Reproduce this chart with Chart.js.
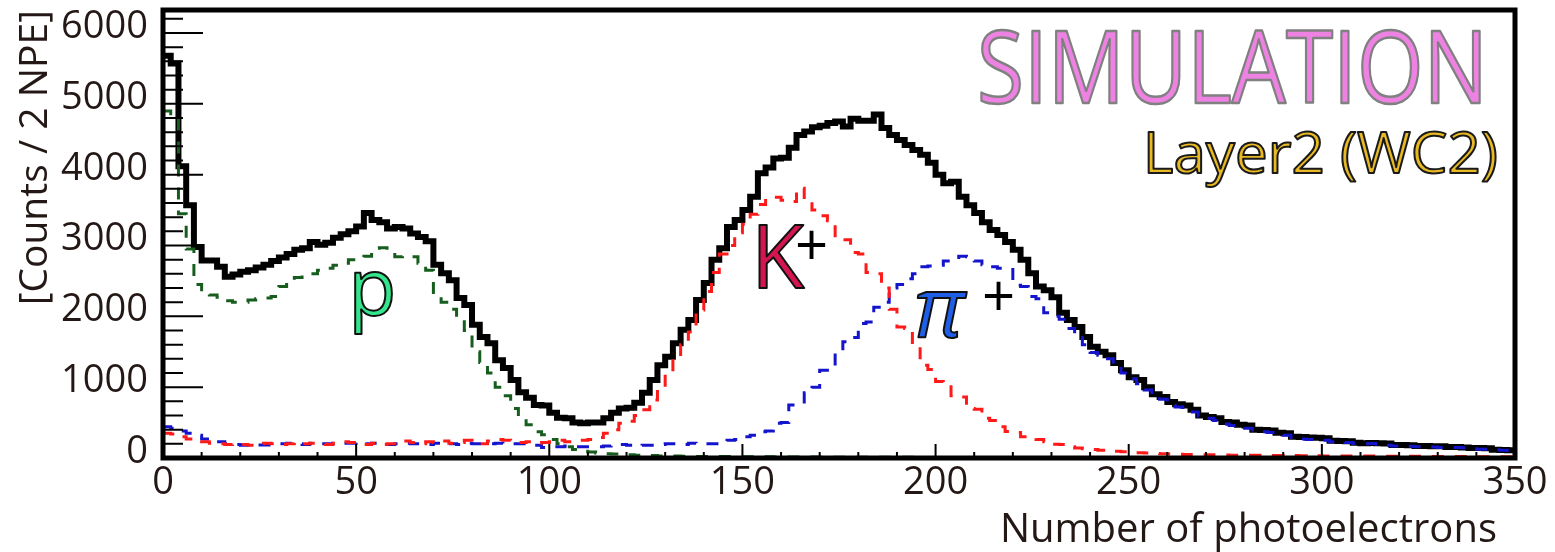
<!DOCTYPE html>
<html>
<head>
<meta charset="utf-8">
<script src="https://cdn.jsdelivr.net/npm/chart.js@4.4.1/dist/chart.umd.min.js"></script>
<style>
  html, body { margin: 0; padding: 0; background: #fff; }
  #wrap { width: 1555px; height: 552px; position: relative; }
</style>
</head>
<body>
<div id="wrap"><canvas id="chart"></canvas></div>
<script>
// histogram, 2 NPE per bin, 0..350
const BIN_WIDTH = 2;
const X_MIN = 0;
const X_MAX = 350;
const Y_MAX = 6325;
const X_TICKS = [0, 50, 100, 150, 200, 250, 300, 350];
const Y_TICKS = [0, 1000, 2000, 3000, 4000, 5000, 6000];

const total = [
  5680, 5570, 4120, 3570, 2980, 2790, 2790, 2700, 2560, 2590,
  2630, 2650, 2690, 2730, 2780, 2830, 2880, 2940, 2960, 3050,
  3010, 3040, 3110, 3160, 3200, 3270, 3460, 3360, 3330, 3240,
  3260, 3240, 3170, 3120, 3060, 2730, 2610, 2510, 2260, 2160,
  1880, 1710, 1620, 1380, 1270, 1100, 930, 850, 750, 740,
  640, 570, 560, 500, 490, 500, 500, 560, 640, 700,
  710, 780, 920, 1100, 1310, 1430, 1620, 1810, 1950, 2230,
  2470, 2800, 2960, 3260, 3360, 3500, 3690, 4020, 4100, 4230,
  4240, 4380, 4560, 4610, 4670, 4690, 4730, 4750, 4680, 4790,
  4760, 4760, 4850, 4660, 4560, 4490, 4420, 4350, 4280, 4170,
  4000, 3880, 3900, 3690, 3570, 3460, 3330, 3220, 3150, 3050,
  2940, 2800, 2610, 2420, 2370, 2270, 2050, 1950, 1850, 1710,
  1570, 1500, 1450, 1340, 1240, 1140, 1100, 1000, 900, 860,
  790, 760, 740, 680, 600, 580, 560, 510, 500, 470,
  460, 400, 395, 390, 355, 350, 300, 295, 290, 285,
  280, 245, 240, 235, 215, 210, 212, 210, 205, 185,
  184, 180, 170, 168, 165, 165, 155, 155, 150, 142,
  140, 138, 115, 112, 110
];

const proton = [
  4900, 4800, 3450, 2950, 2450, 2350, 2300, 2270, 2220, 2200,
  2200, 2230, 2250, 2260, 2280, 2420, 2480, 2550, 2580, 2600,
  2650, 2680, 2720, 2750, 2800, 2830, 2850, 2960, 2970, 2900,
  2840, 2850, 2840, 2750, 2650, 2300, 2200, 2100, 1950, 1800,
  1500, 1350, 1200, 1000, 880, 700, 560, 470, 370, 330,
  260, 200, 160, 120, 95, 85, 70, 60, 55, 50,
  45, 40, 40, 35, 30, 30, 28, 25, 25, 22,
  22, 20, 20, 20, 18, 18, 18, 16, 16, 15,
  15, 14, 14, 13, 13, 12, 12, 12, 11, 11,
  10, 10, 10, 10, 9, 9, 9, 9, 8, 8,
  8, 8, 8, 7, 7, 7, 7, 7, 6, 6,
  6, 6, 6, 6, 6, 5, 5, 5, 5, 5,
  5, 5, 5, 5, 4, 4, 4, 4, 4, 4,
  4, 4, 4, 4, 4, 3, 3, 3, 3, 3,
  3, 3, 3, 3, 3, 3, 3, 3, 2, 2,
  2, 2, 2, 2, 2, 2, 2, 2, 2, 2,
  2, 2, 2, 2, 2, 1, 1, 1, 1, 1,
  1, 1, 1, 1, 1
];

const kaon = [
  350, 340, 300, 270, 260, 230, 210, 200, 190, 200,
  190, 180, 200, 210, 200, 190, 200, 220, 200, 210,
  200, 190, 210, 230, 220, 200, 190, 210, 190, 200,
  220, 240, 220, 200, 230, 220, 240, 210, 220, 250,
  220, 200, 240, 260, 250, 230, 220, 230, 210, 220,
  230, 250, 230, 240, 250, 260, 290, 350, 400, 490,
  520, 600, 680, 820, 1000, 1200, 1400, 1600, 1780, 2090,
  2350, 2620, 2880, 3000, 3180, 3300, 3440, 3580, 3670, 3680,
  3640, 3620, 3810, 3650, 3500, 3420, 3350, 3100, 3080, 2900,
  2880, 2620, 2600, 2400, 2100, 1850, 1830, 1600, 1310, 1250,
  1080, 1040, 880, 860, 700, 690, 560, 530, 440, 375,
  360, 300, 280, 260, 230, 195, 190, 160, 140, 130,
  120, 110, 100, 95, 90, 85, 75, 70, 65, 60,
  55, 52, 50, 48, 46, 45, 44, 42, 40, 40,
  38, 38, 36, 36, 35, 34, 34, 33, 32, 32,
  30, 30, 30, 29, 28, 28, 27, 26, 26, 25,
  25, 24, 24, 23, 22, 22, 21, 20, 20, 20,
  19, 18, 18, 18, 17
];

const pion = [
  440, 420, 380, 350, 320, 270, 230, 230, 200, 190,
  180, 190, 185, 185, 190, 200, 210, 200, 190, 210,
  200, 200, 210, 210, 210, 220, 200, 210, 190, 190,
  200, 210, 200, 200, 190, 210, 220, 200, 190, 210,
  200, 200, 200, 210, 200, 200, 200, 180, 180, 150,
  160, 160, 170, 160, 160, 160, 160, 170, 190, 190,
  180, 170, 180, 180, 190, 200, 200, 190, 210, 200,
  200, 200, 210, 250, 260, 300, 320, 370, 380, 490,
  500, 750, 760, 920, 1000, 1240, 1300, 1480, 1640, 1700,
  1900, 1920, 2130, 2200, 2400, 2450, 2530, 2600, 2700, 2710,
  2720, 2780, 2790, 2850, 2840, 2780, 2730, 2700, 2680, 2660,
  2440, 2420, 2280, 2250, 2050, 2000, 1960, 1830, 1700, 1600,
  1490, 1450, 1400, 1313, 1200, 1120, 1050, 960, 880, 830,
  750, 720, 690, 650, 590, 560, 530, 480, 460, 440,
  420, 370, 370, 360, 330, 320, 290, 270, 260, 255,
  250, 230, 230, 220, 205, 200, 205, 195, 180, 170,
  170, 165, 160, 155, 155, 150, 150, 148, 145, 135,
  125, 125, 115, 110, 105
];

const FONT = "'Open Sans', 'Noto Sans', sans-serif";
const INK = '#231815';

// bin contents -> step points at the low edge of each bin, closed at the last upper edge
function toSteps(values) {
  const pts = values.map((v, i) => ({ x: X_MIN + i * BIN_WIDTH, y: v }));
  pts.push({ x: X_MIN + values.length * BIN_WIDTH, y: values[values.length - 1] });
  return pts;
}

function outlined(ctx, text, x, y, o) {
  ctx.save();
  ctx.font = o.font;
  ctx.textAlign = o.align || 'left';
  ctx.textBaseline = 'alphabetic';
  ctx.translate(x, y);
  if (o.width) {
    const w = ctx.measureText(text).width;
    ctx.scale(o.width / w, 1);
  }
  ctx.lineJoin = 'round';
  ctx.fillStyle = o.fill;
  ctx.fillText(text, 0, 0);
  if (o.stroke) {
    ctx.lineWidth = o.lineWidth;
    ctx.strokeStyle = o.stroke;
    ctx.strokeText(text, 0, 0);
  }
  ctx.restore();
}

const rootFrame = {
  id: 'rootFrame',
  afterDatasetsDraw(chart) {
    const { ctx, chartArea: a, scales: { x, y } } = chart;
    ctx.save();
    ctx.strokeStyle = '#000';
    ctx.lineWidth = 2;
    ctx.beginPath();
    for (let v = 0; v <= Y_MAX; v += 200) {
      const py = y.getPixelForValue(v);
      const len = v % 1000 === 0 ? 40 : 20;
      ctx.moveTo(a.left, py);
      ctx.lineTo(a.left + len, py);
    }
    for (let v = X_MIN; v <= X_MAX; v += 10) {
      const px = x.getPixelForValue(v);
      const len = v % 50 === 0 ? 14 : 6;
      ctx.moveTo(px, a.bottom);
      ctx.lineTo(px, a.bottom - len);
    }
    ctx.stroke();
    ctx.lineWidth = 5;
    ctx.strokeRect(a.left, a.top, a.right - a.left, a.bottom - a.top);
    ctx.restore();
  },
  afterDraw(chart) {
    const { ctx, chartArea: a, scales: { x, y } } = chart;
    outlined(ctx, 'SIMULATION', x.getPixelForValue(343), y.getPixelForValue(5010), {
      font: `101px ${FONT}`, align: 'right', width: 511,
      fill: '#ee82e2', stroke: '#808080', lineWidth: 2.5,
    });
    outlined(ctx, 'Layer2 (WC2)', x.getPixelForValue(345.6), y.getPixelForValue(4025), {
      font: `57px ${FONT}`, align: 'right', width: 355,
      fill: '#e8b923', stroke: '#1a1a1a', lineWidth: 2,
    });
    outlined(ctx, 'p', x.getPixelForValue(48), y.getPixelForValue(2020), {
      font: `78px ${FONT}`, fill: '#33e58c', stroke: '#111', lineWidth: 2,
    });
    outlined(ctx, 'K', x.getPixelForValue(152.2), y.getPixelForValue(2395), {
      font: `87px ${FONT}`, fill: '#d41650', stroke: '#111', lineWidth: 2,
    });
    outlined(ctx, '+', x.getPixelForValue(163.6), y.getPixelForValue(2710), {
      font: `58px ${FONT}`, fill: '#000',
    });
    outlined(ctx, '\u03c0', x.getPixelForValue(194.5), y.getPixelForValue(1715), {
      font: `italic 84px ${FONT}`, fill: '#1f5fe8', stroke: '#111', lineWidth: 2,
    });
    outlined(ctx, '+', x.getPixelForValue(212), y.getPixelForValue(1995), {
      font: `58px ${FONT}`, fill: '#000',
    });
    outlined(ctx, 'Number of photoelectrons', 1497, a.bottom + 84, {
      font: `40px ${FONT}`, align: 'right', fill: INK,
    });
  },
};

const histStyle = {
  pointRadius: 0,
  stepped: 'before',
  fill: false,
  tension: 0,
};

const dashed = { borderWidth: 3, borderDash: [12, 11], order: 1 };

const chart = new Chart(document.getElementById('chart'), {
  type: 'line',
  data: {
    datasets: [
      { ...histStyle, ...dashed, label: 'p', data: toSteps(proton), borderColor: '#175e1e' },
      { ...histStyle, ...dashed, label: 'K+', data: toSteps(kaon), borderColor: '#ff1a1a' },
      { ...histStyle, ...dashed, label: 'pi+', data: toSteps(pion), borderColor: '#1414cc' },
      { ...histStyle, label: 'all', data: toSteps(total), borderColor: '#000', borderWidth: 6, order: 2 },
    ],
  },
  options: {
    responsive: true,
    maintainAspectRatio: false,
    animation: false,
    layout: { autoPadding: false, padding: { top: 10, right: 40, bottom: 0, left: 0 } },
    plugins: { legend: { display: false }, tooltip: { enabled: false } },
    scales: {
      x: {
        type: 'linear',
        min: X_MIN,
        max: X_MAX,
        afterBuildTicks(s) { s.ticks = X_TICKS.map((v) => ({ value: v })); },
        afterFit(s) {
          s.height = 94;
          s.paddingLeft = 0;
          s.paddingRight = 0;
        },
        grid: { display: false, drawTicks: false },
        border: { display: false },
        ticks: {
          autoSkip: false, maxRotation: 0,
          padding: 2, color: INK, font: { family: FONT, size: 38 },
        },
      },
      y: {
        min: 0,
        max: Y_MAX,
        afterBuildTicks(s) { s.ticks = Y_TICKS.map((v) => ({ value: v })); },
        afterFit(s) {
          s.width = 163;
          s.paddingTop = 0;
          s.paddingBottom = 0;
        },
        grid: { display: false, drawTicks: false },
        border: { display: false },
        ticks: {
          autoSkip: false,
          padding: 15, labelOffset: -6, color: INK, font: { family: FONT, size: 38 },
          callback: (v) => String(v),
        },
        title: {
          display: true, text: '[Counts / 2 NPE]', align: 'end',
          color: INK, font: { family: FONT, size: 39 }, padding: { top: 12, bottom: 0 },
        },
      },
    },
  },
  plugins: [rootFrame],
});
</script>
</body>
</html>
